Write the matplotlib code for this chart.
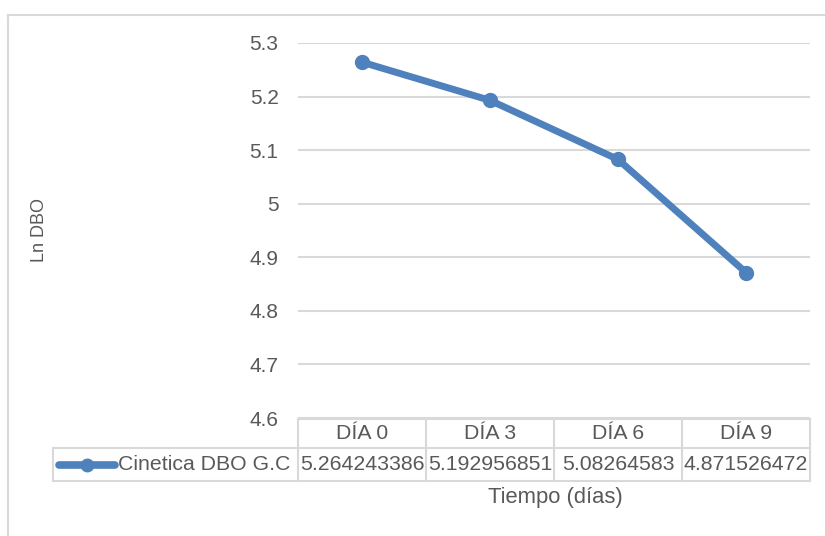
import matplotlib.pyplot as plt
from matplotlib.lines import Line2D
from matplotlib.transforms import blended_transform_factory

plt.rcParams["font.family"] = ["Liberation Sans", "DejaVu Sans"]

# ln(DBO) over time
dias = ["DÍA 0", "DÍA 3", "DÍA 6", "DÍA 9"]
ln_dbo = [5.264243386, 5.192956851, 5.08264583, 4.871526472]
serie = "Cinetica DBO G.C"

W, H = 825, 536
TXT = "#595959"
GRID = "#d9d9d9"
BLUE = "#4f81bd"
FS = 15.3

fig = plt.figure(figsize=(W / 100, H / 100), dpi=100)


def fx(px):
    return px / W


def fy(py):
    return 1 - py / H


ax = fig.add_axes([fx(298), fy(418), fx(810) - fx(298), fy(43) - fy(418)])

x = list(range(len(dias)))
ax.plot(x, ln_dbo, color=BLUE, lw=5, marker="o", ms=10,
        solid_capstyle="round", zorder=3)

ax.set_xlim(-0.5, len(dias) - 0.5)
ax.set_ylim(4.6, 5.3)
ax.set_yticks([4.6, 4.7, 4.8, 4.9, 5.0, 5.1, 5.2, 5.3])
ax.set_yticklabels(["4.6", "4.7", "4.8", "4.9", "5", "5.1", "5.2", "5.3"])
ax.yaxis.grid(True, color=GRID, lw=1.5)
ax.set_axisbelow(True)
ax.tick_params(axis="y", length=0, pad=14, labelsize=15, labelcolor=TXT)
ax.set_xticks([])
for s in ax.spines.values():
    s.set_visible(False)

# data table under the plot
tr = blended_transform_factory(ax.transData, ax.transAxes)
ah = 375.0
y_top = -1 / ah
y_mid = -30 / ah
y_bot = -63 / ah
x_leg = (53 - 298) / 512.0
edges = [i - 0.5 for i in range(len(dias) + 1)]

lk = dict(color=GRID, lw=1.5, clip_on=False)
ax.add_line(Line2D([edges[0], edges[-1]], [y_top, y_top], transform=tr, **lk))
ax.add_line(Line2D([x_leg, 1], [y_mid, y_mid], transform=ax.transAxes, **lk))
ax.add_line(Line2D([x_leg, 1], [y_bot, y_bot], transform=ax.transAxes, **lk))
ax.add_line(Line2D([x_leg, x_leg], [y_mid, y_bot], transform=ax.transAxes, **lk))
for e in edges:
    ax.add_line(Line2D([e, e], [y_top, y_bot], transform=tr, **lk))

for i, (d, v) in enumerate(zip(dias, ln_dbo)):
    ax.text(i, (y_top + y_mid) / 2, d, transform=tr, ha="center", va="center",
            fontsize=FS, color=TXT)
    ax.text(i, (y_mid + y_bot) / 2, str(v), transform=tr, ha="center",
            va="center", fontsize=FS, color=TXT)

# legend key inside the table
ym = (y_mid + y_bot) / 2
ax.add_line(Line2D([(59 - 298) / 512, (115 - 298) / 512], [ym, ym],
                   transform=ax.transAxes, color=BLUE, lw=5.5,
                   solid_capstyle="round", clip_on=False))
ax.add_line(Line2D([(87 - 298) / 512], [ym], transform=ax.transAxes,
                   marker="o", ms=9, color=BLUE, clip_on=False))
ax.text((118 - 298) / 512, ym, serie, transform=ax.transAxes, ha="left",
        va="center", fontsize=FS, color=TXT)

fig.text(fx(40), fy(230), "Ln DBO", rotation=90, ha="center", va="center",
         fontsize=13, color=TXT)
fig.text(fx(555), fy(497), "Tiempo (días)", ha="center", va="center",
         fontsize=15.8, color=TXT)

# chart area border
fig.add_artist(Line2D([fx(7.5), 1], [fy(14.5), fy(14.5)], color=GRID, lw=1.5,
                      transform=fig.transFigure))
fig.add_artist(Line2D([fx(7.5), fx(7.5)], [fy(14.5), 0], color=GRID, lw=1.5,
                      transform=fig.transFigure))

fig.savefig("out.png", dpi=100)
